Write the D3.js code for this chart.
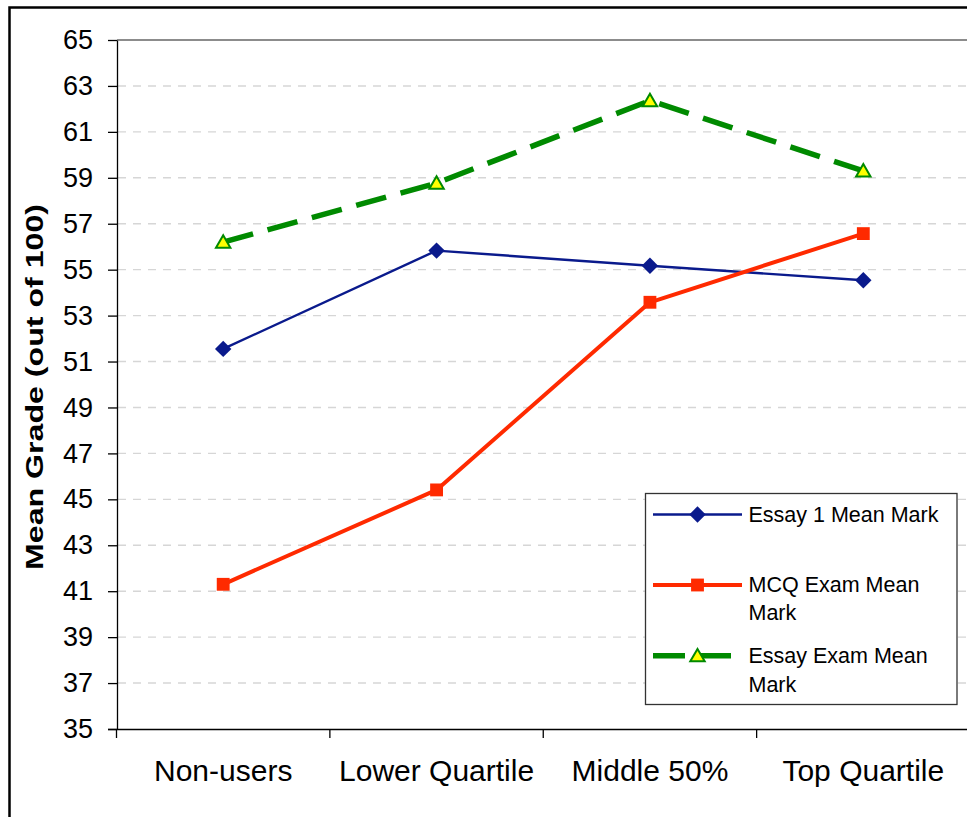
<!DOCTYPE html>
<html>
<head>
<meta charset="utf-8">
<script src="https://cdn.jsdelivr.net/npm/d3@7"></script>
<style>
  html, body { margin: 0; padding: 0; background: #fff; }
  svg { display: block; font-family: "Liberation Sans", Arial, sans-serif; }
</style>
</head>
<body>
<svg id="chart" width="967" height="817"></svg>
<script>
// ---- data ----
const categories = ["Non-users", "Lower Quartile", "Middle 50%", "Top Quartile"];
const essay1Values = [51.55, 55.83, 55.17, 54.54];
const mcqValues = [41.3, 45.41, 53.58, 56.57];
const essayExamValues = [56.2, 58.77, 62.36, 59.3];
const seriesNames = ["Essay 1 Mean Mark", "MCQ Exam Mean Mark", "Essay Exam Mean Mark"];
const yTickValues = [35, 37, 39, 41, 43, 45, 47, 49, 51, 53, 55, 57, 59, 61, 63, 65];
const yTitle = "Mean Grade (out of 100)";

const svg = d3.select("#chart");

// outer chart border
svg.append("rect")
  .attr("x", 9.5).attr("y", 7.5).attr("width", 1100).attr("height", 1000)
  .attr("fill", "none").attr("stroke", "#000").attr("stroke-width", 2.5);

const plot = { left: 117, right: 970, top: 40, bottom: 729 };

const x = d3.scaleBand().domain(categories).range([116.5, 970]).paddingInner(0).paddingOuter(0);
const y = d3.scaleLinear().domain([35, 65]).range([plot.bottom, plot.top]);
const cx = d => x(d) + x.bandwidth() / 2;

// plot area top/right border
svg.append("path")
  .attr("d", `M${plot.left},${y(65)}H${x.range()[1] + 2}V${plot.bottom}`)
  .attr("fill", "none").attr("stroke", "#8c8c8c").attr("stroke-width", 2);

// gridlines
svg.append("g").selectAll("line")
  .data(yTickValues.filter(v => v > 35 && v < 65))
  .join("line")
  .attr("x1", plot.left + 1).attr("x2", x.range()[1] + 2)
  .attr("y1", d => y(d)).attr("y2", d => y(d))
  .attr("stroke", "#d6d6d6").attr("stroke-width", 1.4)
  .attr("stroke-dasharray", "8,7");

// y axis
const yAxis = svg.append("g")
  .attr("transform", `translate(${plot.left},0)`)
  .call(d3.axisLeft(y).tickValues(yTickValues).tickSize(9).tickSizeOuter(0).tickPadding(15));
yAxis.select(".domain").attr("stroke", "#000").attr("stroke-width", 1.3);
yAxis.selectAll(".tick line").attr("stroke", "#000").attr("stroke-width", 1.3);
yAxis.selectAll(".tick text")
  .attr("font-size", 27).attr("fill", "#000")
  .attr("font-family", "'Liberation Sans', Arial, sans-serif");

// x axis
const xAxis = svg.append("g")
  .attr("transform", `translate(0,${plot.bottom})`)
  .call(d3.axisBottom(x).tickSize(0).tickSizeOuter(0).tickPadding(31));
xAxis.select(".domain").attr("stroke", "#000").attr("stroke-width", 1.5)
  .attr("d", `M${plot.left - 9},0.5H${x.range()[1] + 2}`);
xAxis.selectAll(".tick text")
  .attr("font-size", 30).attr("fill", "#000")
  .attr("font-family", "'Liberation Sans', Arial, sans-serif");
// boundary ticks between categories
const boundaries = categories.map(c => x(c)).concat([x.range()[1]]);
xAxis.append("g").selectAll("line")
  .data(boundaries)
  .join("line")
  .attr("x1", d => d).attr("x2", d => d)
  .attr("y1", 0).attr("y2", 9)
  .attr("stroke", "#000").attr("stroke-width", 1.3);

// y axis title
svg.append("text")
  .attr("transform", `translate(43,387) rotate(-90)`)
  .attr("text-anchor", "middle")
  .attr("font-size", 24).attr("font-weight", "bold").attr("fill", "#000")
  .attr("textLength", 366).attr("lengthAdjust", "spacingAndGlyphs")
  .text(yTitle);

// series definitions
const series = [
  { name: seriesNames[0], values: essay1Values, color: "#0a1a8c", width: 2.4, dash: null,
    symbol: d3.symbolSquare, size: 135, rotate: 45, fill: "#0a1a8c", stroke: "none", sw: 0 },
  { name: seriesNames[1], values: mcqValues, color: "#ff2a00", width: 4, dash: null,
    symbol: d3.symbolSquare, size: 165, rotate: 0, fill: "#ff2a00", stroke: "none", sw: 0 },
  { name: seriesNames[2], values: essayExamValues, color: "#008a00", width: 5.5, dash: "31,15",
    symbol: d3.symbolTriangle, size: 90, rotate: 0, fill: "#ffff00", stroke: "#008a00", sw: 2 }
];

const line = d3.line().x((d, i) => cx(categories[i])).y(d => y(d));

series.forEach(s => {
  const g = svg.append("g");
  g.append("path")
    .attr("d", line(s.values))
    .attr("fill", "none")
    .attr("stroke", s.color)
    .attr("stroke-width", s.width)
    .attr("stroke-dasharray", s.dash)
    .attr("stroke-linejoin", "round");
  g.selectAll("path.marker")
    .data(s.values)
    .join("path")
    .attr("class", "marker")
    .attr("d", d3.symbol().type(s.symbol).size(s.size))
    .attr("transform", (d, i) => `translate(${cx(categories[i])},${y(d) + (s.symbol === d3.symbolTriangle ? 1.5 : 0)}) rotate(${s.rotate})`)
    .attr("fill", s.fill)
    .attr("stroke", s.stroke)
    .attr("stroke-width", s.sw);
});

// legend
const legend = svg.append("g");
legend.append("rect")
  .attr("x", 645.5).attr("y", 493.5).attr("width", 311.5).attr("height", 211)
  .attr("fill", "#fff").attr("stroke", "#333").attr("stroke-width", 1.3);

const legendLayout = [
  { lineY: 514.5, lines: ["Essay 1 Mean Mark"], textY: 521.7 },
  { lineY: 585, lines: ["MCQ Exam Mean", "Mark"], textY: 591.7 },
  { lineY: 655.7, lines: ["Essay Exam Mean", "Mark"], textY: 663.3 }
];

series.forEach((s, k) => {
  const L = legendLayout[k];
  legend.append("line")
    .attr("x1", 653).attr("x2", 742)
    .attr("y1", L.lineY).attr("y2", L.lineY)
    .attr("stroke", s.color).attr("stroke-width", s.width)
    .attr("stroke-dasharray", s.dash ? "32,14" : null);
  legend.append("path")
    .attr("d", d3.symbol().type(s.symbol).size(s.size))
    .attr("transform", `translate(697.5,${L.lineY + (s.symbol === d3.symbolTriangle ? 1.5 : 0)}) rotate(${s.rotate})`)
    .attr("fill", s.fill).attr("stroke", s.stroke).attr("stroke-width", s.sw);
  const t = legend.append("text")
    .attr("x", 748.5).attr("y", L.textY)
    .attr("font-size", 21.5).attr("fill", "#000");
  L.lines.forEach((ln, j) => {
    t.append("tspan").attr("x", 748.5).attr("y", L.textY + j * 28.3).text(ln);
  });
});
</script>
</body>
</html>
